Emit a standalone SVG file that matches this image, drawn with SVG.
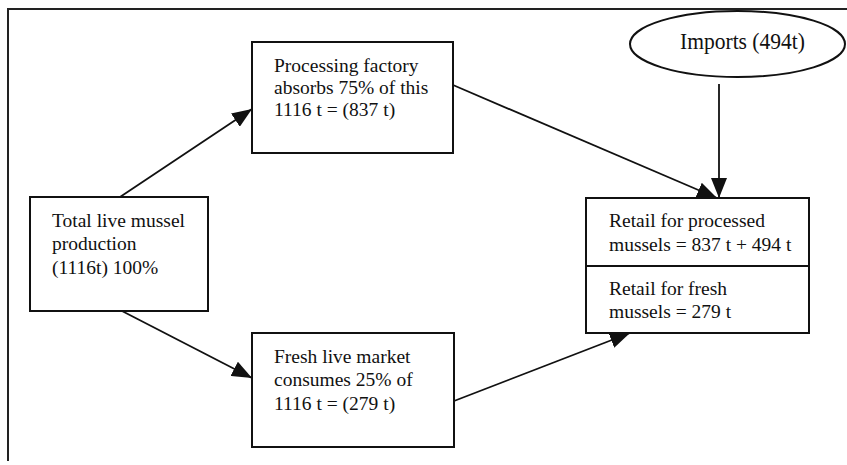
<svg xmlns="http://www.w3.org/2000/svg" width="847" height="465" viewBox="0 0 847 465">
<style>
.box{fill:#fff;stroke:#111;stroke-width:2}
.t{font-family:"Liberation Serif","Times New Roman",serif;font-size:19.5px;fill:#111}
.c{stroke:#111;stroke-width:1.8;fill:none}
</style>
<defs>
<marker id="ah" viewBox="0 0 20 16" refX="20" refY="8" markerWidth="20" markerHeight="16" markerUnits="userSpaceOnUse" orient="auto">
<path d="M0,0 L20,8 L0,16 Z" fill="#111"/>
</marker>
</defs>
<rect width="847" height="465" fill="#fff"/>
<path d="M8,461 L8,9 L847,9" fill="none" stroke="#222" stroke-width="2"/>
<g id="connectors">
<line class="c" x1="120" y1="197" x2="252" y2="109" marker-end="url(#ah)"/>
<line class="c" x1="122" y1="311" x2="252" y2="378" marker-end="url(#ah)"/>
<line class="c" x1="453" y1="85" x2="717" y2="198" marker-end="url(#ah)"/>
<line class="c" x1="719" y1="84" x2="719" y2="198" marker-end="url(#ah)"/>
<line class="c" x1="454" y1="401" x2="630" y2="333" marker-end="url(#ah)"/>
</g>
<g id="imports">
<ellipse cx="737.5" cy="44" rx="107.5" ry="33" fill="#fff" stroke="#111" stroke-width="2"/>
<text x="680" y="49" font-family="Liberation Serif, Times New Roman, serif" font-size="24" fill="#111" textLength="125" lengthAdjust="spacingAndGlyphs">Imports (494t)</text>
</g>
<g id="processing">
<rect class="box" x="252" y="42" width="201" height="111"/>
<text class="t" x="274" y="72">Processing factory</text>
<text class="t" x="274" y="94">absorbs 75% of this</text>
<text class="t" x="274" y="116">1116 t = (837 t)</text>
</g>
<g id="total">
<rect class="box" x="30" y="197" width="178" height="114"/>
<text class="t" x="52" y="227">Total live mussel</text>
<text class="t" x="52" y="250">production</text>
<text class="t" x="52" y="274">(1116t) 100%</text>
</g>
<g id="fresh">
<rect class="box" x="252" y="333" width="202" height="114"/>
<text class="t" x="274" y="363">Fresh live market</text>
<text class="t" x="274" y="386">consumes 25% of</text>
<text class="t" x="274" y="410">1116 t = (279 t)</text>
</g>
<g id="retail">
<rect class="box" x="586" y="198" width="223" height="135"/>
<line x1="586" y1="266" x2="809" y2="266" stroke="#111" stroke-width="2"/>
<text class="t" x="609" y="227">Retail for processed</text>
<text class="t" x="609" y="251">mussels = 837 t + 494 t</text>
<text class="t" x="609" y="295">Retail for fresh</text>
<text class="t" x="609" y="318">mussels = 279 t</text>
</g>
</svg>
